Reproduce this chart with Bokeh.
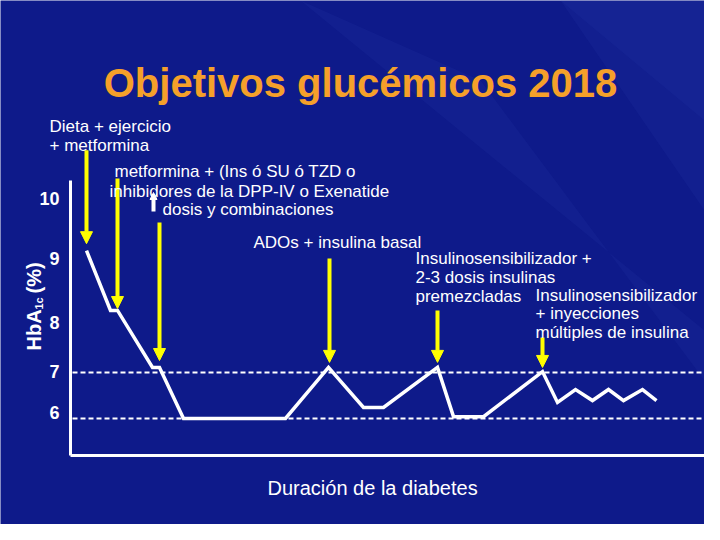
import math
from bokeh.plotting import figure
from bokeh.models import Range1d, Label, Arrow, NormalHead, ColumnDataSource
from bokeh.core.properties import value
from bokeh.embed import file_html
from bokeh.resources import INLINE

# ---------------- data ----------------
time = [16, 40, 47, 82, 89, 113, 215, 258, 293, 313, 367, 383, 413,
        472, 487, 505, 522, 538, 553, 572, 586]
hba1c = [9.65, 8.35, 8.35, 7.11, 7.11, 6.0, 6.0, 7.11, 6.24, 6.24, 7.11, 6.04, 6.04,
         7.02, 6.35, 6.63, 6.39, 6.63, 6.39, 6.63, 6.39]

target_levels = [7, 6]
target_start = [2, 2]
target_end = [640, 637]

tick_labels = ["6", "7", "8", "9", "10"]
tick_pos = [6.13, 7.02, 8.09, 9.48, 10.78]

axis_x_end = 637
axis_y_bottom = 5.196
axis_y_top = 11.174

# treatment step arrows (time, top of shaft, tip)
arrow_x = [16, 47, 89, 259, 367, 472]
arrow_top = [11.83, 11.22, 10.26, 9.48, 8.35, 7.76]
arrow_tip = [9.80, 8.39, 7.26, 7.22, 7.22, 7.11]

FONT = "Liberation Sans"
BG = "#0e1a8a"

# layout helpers (reference pixel -> data units), used for annotation placement
def dx(px):
    return px - 70

def dy(py):
    return 7 + (372 - py) / 46.0

W, H = 704, 524
p = figure(width=W, height=H, output_backend="svg", toolbar_location=None,
           x_range=Range1d(dx(0), dx(W)), y_range=Range1d(dy(H), dy(0)),
           min_border=0)
p.background_fill_color = BG
p.border_fill_color = BG
p.outline_line_color = None
p.xaxis.visible = False
p.yaxis.visible = False
p.xgrid.visible = False
p.ygrid.visible = False

# subtle background streaks
streak_xs = [[dx(430), dx(704), dx(704), dx(560)],
             [dx(300), dx(704), dx(704), dx(480)],
             [dx(560), dx(704), dx(704)]]
streak_ys = [[dy(0), dy(0), dy(210), dy(0)],
             [dy(0), dy(330), dy(380), dy(80)],
             [dy(0), dy(0), dy(120)]]
p.patches(streak_xs, streak_ys, fill_color="#4a64d8", fill_alpha=0.07, line_color=None)

# axis lines
p.segment(x0=[0, 0], y0=[axis_y_bottom, axis_y_bottom], x1=[0, axis_x_end], y1=[axis_y_top, axis_y_bottom],
          line_color="white", line_width=3)

# tick labels
p.text(x=[dx(59)] * len(tick_pos), y=tick_pos, text=tick_labels,
       text_color="white", text_font=value(FONT), text_font_style="bold",
       text_font_size="18px", text_align="right", text_baseline="middle")

# target dashed lines
p.segment(x0=target_start, y0=target_levels, x1=target_end, y1=target_levels,
          line_color="white", line_width=2, line_dash="5 3")

# HbA1c course
src = ColumnDataSource(dict(t=time, h=hba1c))
p.line("t", "h", source=src, line_color="white", line_width=3.5, line_join="miter")

# yellow arrows
for x, y0, y1 in zip(arrow_x, arrow_top, arrow_tip):
    p.add_layout(Arrow(x_start=x, y_start=y0, x_end=x, y_end=y1,
                       line_color="#ffff00", line_width=4,
                       end=NormalHead(size=12, fill_color="#ffff00", line_color="#ffff00", line_width=1)))

# small white up-arrow before "dosis"
p.add_layout(Arrow(x_start=dx(153), y_start=dy(211), x_end=dx(153), y_end=dy(192),
                   line_color="white", line_width=4,
                   end=NormalHead(size=7, fill_color="white", line_color="white", line_width=1)))

def lab(text, px, py, size="17px", align="left", style="normal", color="white", angle=0.0):
    p.add_layout(Label(x=dx(px), y=dy(py), text=text, text_color=color,
                       text_font=FONT, text_font_size=size, text_font_style=style,
                       text_align=align, text_baseline="alphabetic", angle=angle))

# title
lab("Objetivos glucémicos 2018", 360, 82, size="40px", align="center", style="bold", color="#F5A02A")

# annotations
lab("Dieta + ejercicio", 49, 126)
lab("+ metformina", 49, 145)
lab("metformina + (Ins ó SU ó TZD o", 114, 171)
lab("inhibidores de la DPP-IV o Exenatide", 109, 191)
lab("dosis y combinaciones", 162, 209)
lab("ADOs + insulina basal", 253, 242)
lab("Insulinosensibilizador +", 415, 258)
lab("2-3 dosis insulinas", 415, 277)
lab("premezcladas", 415, 296)
lab("Insulinosensibilizador", 535, 295)
lab("+ inyecciones", 535, 313)
lab("múltiples de insulina", 535, 332)

# x-axis title
lab("Duración de la diabetes", 267, 487, size="20px")

# y-axis title HbA1c (%) (rotated, with subscript)
rot = math.pi / 2
lab("HbA", 33, 350, size="20px", style="bold", angle=rot)
lab("1c", 38, 309, size="11px", style="bold", angle=rot)
lab("(%)", 33, 293, size="20px", style="bold", angle=rot)

open("out.html", "w").write(file_html(p, INLINE))
